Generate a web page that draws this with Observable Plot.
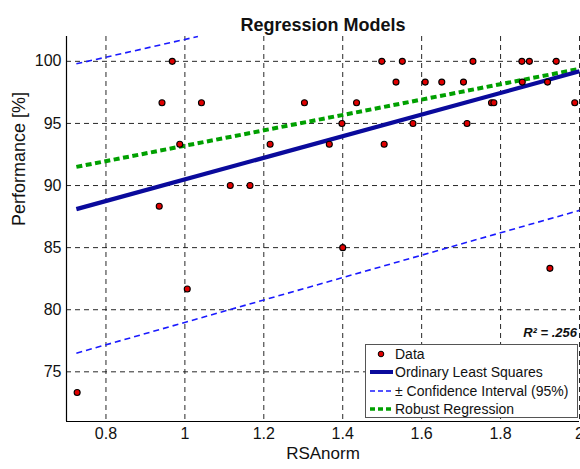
<!DOCTYPE html>
<html>
<head>
<meta charset="utf-8">
<script src="https://cdn.jsdelivr.net/npm/d3@7"></script>
<script src="https://cdn.jsdelivr.net/npm/@observablehq/plot@0.6"></script>
<style>
  html, body { margin: 0; padding: 0; background: #fff; }
  #wrap { position: relative; width: 580px; height: 469px; overflow: hidden; font-family: "Liberation Sans", Arial, Helvetica, sans-serif; }
  #legend { position: absolute; left: 365px; top: 344px; width: 213px; height: 74px; border: 1px solid #555; background: #fff; box-sizing: border-box; font-size: 14px; color: #111; }
  .row { position: absolute; left: 0; height: 18px; line-height: 18px; white-space: nowrap; }
  .row svg { position: absolute; left: 4px; top: 4px; }
  .row span { position: absolute; left: 29px; }
  #r2 { position: absolute; right: 3px; top: 325px; font-size: 13px; font-weight: bold; font-style: italic; color: #111; }
</style>
</head>
<body>
<div id="wrap"></div>
<script>
// Data points (RSAnorm, Performance %)
const dataX = [0.727, 0.935, 0.942, 0.968, 0.987, 1.006, 1.042, 1.115, 1.165, 1.216,
               1.303, 1.366, 1.398, 1.400, 1.435, 1.499, 1.505, 1.535, 1.551, 1.578,
               1.609, 1.651, 1.706, 1.715, 1.730, 1.777, 1.783, 1.854, 1.855, 1.873,
               1.919, 1.925, 1.941, 1.988];
const dataY = [73.33, 88.33, 96.67, 100, 93.33, 81.67, 96.67, 90, 90, 93.33,
               96.67, 93.33, 95, 85, 96.67, 100, 93.33, 98.33, 100, 95,
               98.33, 98.33, 98.33, 95, 100, 96.67, 96.67, 100, 98.33, 100,
               98.33, 83.33, 100, 96.67];

// Fitted lines (endpoints)
const olsX = [0.725, 2.0];
const olsY = [88.1, 99.2];
const robustX = [0.725, 2.0];
const robustY = [91.5, 99.4];
const ciUpperX = [0.725, 1.033];
const ciUpperY = [99.8, 102.0];
const ciLowerX = [0.725, 2.0];
const ciLowerY = [76.5, 88.0];

// Ticks
const xTicks = [0.8, 1, 1.2, 1.4, 1.6, 1.8, 2];
const yTicks = [75, 80, 85, 90, 95, 100];

const pts = dataX.map((x, i) => [x, dataY[i]]);
const pairs = (xs, ys) => xs.map((x, i) => [x, ys[i]]);

const chart = Plot.plot({
  width: 580,
  height: 469,
  marginLeft: 66,
  marginRight: 1,
  marginTop: 36,
  marginBottom: 48,
  style: { fontFamily: "Liberation Sans, Arial, Helvetica, sans-serif", fontSize: "16px", color: "#111", background: "#fff" },
  x: { domain: [0.7, 2], label: null },
  y: { domain: [71, 102], label: null },
  marks: [
    Plot.gridX(xTicks, { stroke: "#111", strokeOpacity: 0.9, strokeDasharray: "5,4", strokeWidth: 1 }),
    Plot.gridY(yTicks, { stroke: "#111", strokeOpacity: 0.9, strokeDasharray: "5,4", strokeWidth: 1 }),
    Plot.axisX(xTicks, { tickSize: 0, tickPadding: 6, tickFormat: d => String(d), fontSize: 16, label: null }),
    Plot.axisY(yTicks, { tickSize: 0, tickPadding: 5, tickFormat: d => String(d), fontSize: 16, label: null }),
    Plot.ruleX([0.7], { stroke: "#000", strokeWidth: 1.2 }),
    Plot.ruleY([71], { stroke: "#000", strokeWidth: 1.2 }),
    Plot.line(pairs(ciUpperX, ciUpperY), { stroke: "#1a1aff", strokeWidth: 1.6, strokeDasharray: "6,4", strokeLinecap: "butt" }),
    Plot.line(pairs(ciLowerX, ciLowerY), { stroke: "#1a1aff", strokeWidth: 1.6, strokeDasharray: "6,4", strokeLinecap: "butt" }),
    Plot.line(pairs(robustX, robustY), { stroke: "#00a000", strokeWidth: 4, strokeDasharray: "6,3.5", strokeLinecap: "butt" }),
    Plot.line(pairs(olsX, olsY), { stroke: "#0a0a9c", strokeWidth: 4.2, strokeLinecap: "butt" }),
    Plot.dot(pts, { r: 3, fill: "#e00000", stroke: "#000", strokeWidth: 1.1 }),
    Plot.text(["Regression Models"], { frameAnchor: "top", dy: -18, fontSize: 18, fontWeight: "bold", fill: "#111" }),
    Plot.text(["RSAnorm"], { frameAnchor: "bottom", dy: 37, fontSize: 17, fill: "#111" }),
    Plot.text(["Performance [%]"], { frameAnchor: "left", rotate: -90, dx: -47, dy: -3, fontSize: 18, fill: "#111" })
  ]
});

const wrap = document.getElementById("wrap");
wrap.appendChild(chart);

const r2 = document.createElement("div");
r2.id = "r2";
r2.textContent = "R\u00B2 = .256";
wrap.appendChild(r2);

const legendItems = [
  { label: "Data", kind: "dot" },
  { label: "Ordinary Least Squares", kind: "line", color: "#0a0a9c", width: 4, dash: null },
  { label: "\u00B1 Confidence Interval (95%)", kind: "line", color: "#1a1aff", width: 1.5, dash: "5,3" },
  { label: "Robust Regression", kind: "line", color: "#00a000", width: 3.5, dash: "5,3" }
];
const legend = document.createElement("div");
legend.id = "legend";
legendItems.forEach((it, i) => {
  const row = document.createElement("div");
  row.className = "row";
  row.style.top = (0 + i * 18.3) + "px";
  let sw;
  if (it.kind === "dot") {
    sw = `<svg width="24" height="10"><circle cx="11" cy="5" r="2.8" fill="#e00000" stroke="#000" stroke-width="1"/></svg>`;
  } else {
    sw = `<svg width="24" height="10"><line x1="0" y1="5" x2="23" y2="5" stroke="${it.color}" stroke-width="${it.width}" ${it.dash ? `stroke-dasharray="${it.dash}"` : ""}/></svg>`;
  }
  row.innerHTML = sw + `<span>${it.label}</span>`;
  legend.appendChild(row);
});
wrap.appendChild(legend);
</script>
</body>
</html>
